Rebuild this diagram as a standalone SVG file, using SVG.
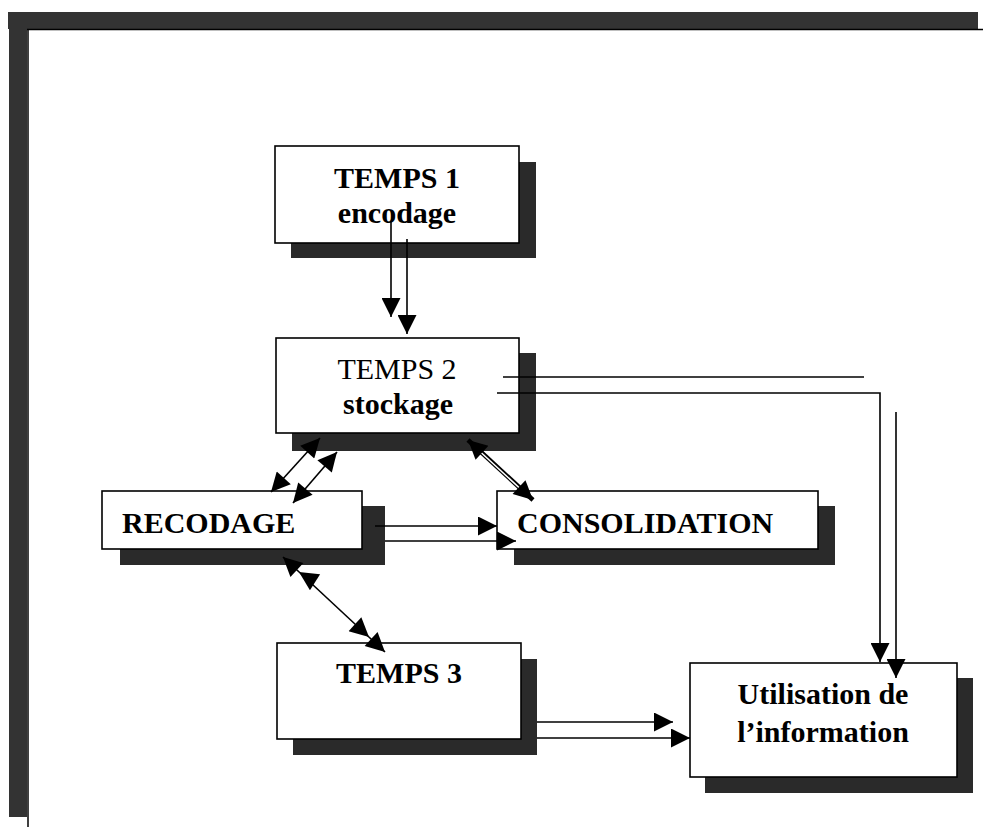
<svg xmlns="http://www.w3.org/2000/svg" width="983" height="827" viewBox="0 0 983 827">
<style>
.box{fill:#fff;stroke:#000;stroke-width:1.6}
.sh{fill:#2a2a2a}
.t{font-family:"Liberation Serif","Times New Roman",serif;font-size:30px;font-weight:bold;fill:#000}
.r{font-weight:normal}
.ln{fill:none;stroke:#000;stroke-width:1.6}
.frame{fill:#333}
</style>
<defs>
<marker id="ah" viewBox="0 0 10 10" refX="10" refY="5" markerWidth="22" markerHeight="19" markerUnits="userSpaceOnUse" orient="auto-start-reverse">
<path d="M0,0 L10,5 L0,10 z" fill="#000"/>
</marker>
</defs>
<rect width="983" height="827" fill="#fff"/>
<g id="frame">
<rect class="frame" x="8" y="12" width="970" height="17"/>
<rect class="frame" x="9" y="12" width="18" height="805"/>
<line x1="27" y1="29.5" x2="983" y2="29.5" stroke="#000" stroke-width="1.5"/>
<line x1="28" y1="29" x2="28" y2="827" stroke="#000" stroke-width="1.5"/>
</g>
<g id="temps1">
<rect class="sh" x="291" y="162" width="245" height="96"/>
<rect class="box" x="275" y="146" width="244" height="97"/>
<text class="t" x="397" y="188" text-anchor="middle">TEMPS 1</text>
<text class="t" x="397" y="223" text-anchor="middle">encodage</text>
</g>
<g id="temps2">
<rect class="sh" x="292" y="353" width="244" height="98"/>
<rect class="box" x="276" y="338" width="243" height="95"/>
<text class="t r" x="397" y="379" text-anchor="middle">TEMPS 2</text>
<text class="t" x="398" y="414" text-anchor="middle">stockage</text>
</g>
<g id="recodage">
<rect class="sh" x="120" y="506" width="265" height="59"/>
<rect class="box" x="102" y="491" width="260" height="58"/>
<text class="t" x="122" y="533">RECODAGE</text>
</g>
<g id="consolidation">
<rect class="sh" x="514" y="506" width="321" height="59"/>
<rect class="box" x="497" y="491" width="321" height="58"/>
<text class="t" x="517" y="533">CONSOLIDATION</text>
</g>
<g id="temps3">
<rect class="sh" x="293" y="659" width="244" height="96"/>
<rect class="box" x="277" y="643" width="244" height="96"/>
<text class="t" x="399" y="683" text-anchor="middle">TEMPS 3</text>
</g>
<g id="utilisation">
<rect class="sh" x="705" y="678" width="268" height="115"/>
<rect class="box" x="690" y="663" width="267" height="114"/>
<text class="t" x="823" y="704" text-anchor="middle">Utilisation de</text>
<text class="t" x="823" y="742" text-anchor="middle">l’information</text>
</g>
<g id="connectors">
<path class="ln" d="M391,222 V317" marker-end="url(#ah)"/>
<path class="ln" d="M407,239 V334" marker-end="url(#ah)"/>
<path class="ln" d="M503,377 H864"/>
<path class="ln" d="M497,393 H880 V662" marker-end="url(#ah)"/>
<path class="ln" d="M896,412 V678" marker-end="url(#ah)"/>
<path class="ln" d="M320,438 L271,492" marker-start="url(#ah)" marker-end="url(#ah)"/>
<path class="ln" d="M337,452 L293,503" marker-start="url(#ah)" marker-end="url(#ah)"/>
<path d="M468,440 L533,500" stroke="#000" stroke-width="4.5" fill="none"/>
<path d="M474,446 L526,494" stroke="#fff" stroke-width="1.5" fill="none"/>
<path d="M480,451 L468,440" fill="none" stroke="none" marker-end="url(#ah)"/>
<path d="M520,488 L533,500" fill="none" stroke="none" marker-end="url(#ah)"/>
<path class="ln" d="M375,526 H497" marker-end="url(#ah)"/>
<path class="ln" d="M385,541 H516" marker-end="url(#ah)"/>
<path class="ln" d="M283,557 L385,652" marker-start="url(#ah)" marker-end="url(#ah)"/>
<path d="M310,579 L299,572" fill="none" stroke="none" marker-end="url(#ah)"/>
<path d="M358,627 L369,637" fill="none" stroke="none" marker-end="url(#ah)"/>
<path class="ln" d="M537,722 H673" marker-end="url(#ah)"/>
<path class="ln" d="M537,738 H690" marker-end="url(#ah)"/>
</g>
</svg>
